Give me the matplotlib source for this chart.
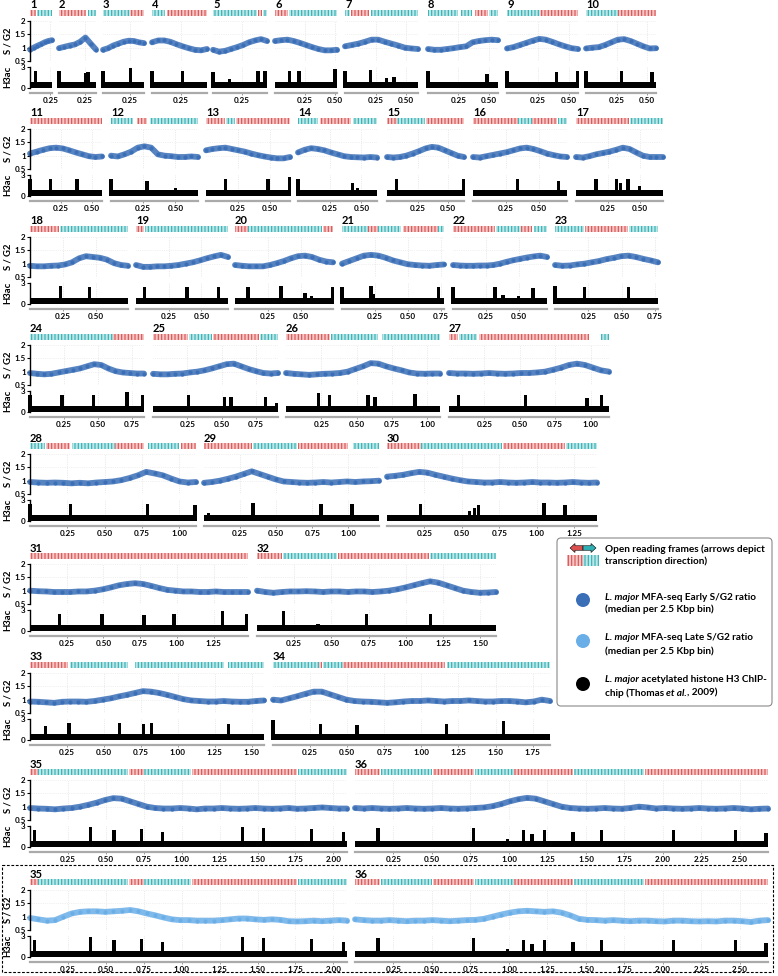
import matplotlib
matplotlib.use('Agg')
import matplotlib.pyplot as plt
from matplotlib.patches import Rectangle, FancyArrow, Circle, FancyBboxPatch
import numpy as np

plt.rcParams['font.family'] = ['Lato', 'DejaVu Sans']
plt.rcParams['hatch.linewidth'] = 0.8

# ---------------- DATA ----------------
chrom_len = [0.269, 0.356, 0.385, 0.473, 0.466, 0.517, 0.596, 0.575, 0.573, 0.571,
             0.583, 0.675, 0.655, 0.623, 0.630, 0.715, 0.685,
             0.740, 0.703, 0.743, 0.773, 0.717, 0.772,
             0.841, 0.912, 1.091, 1.130,
             1.111, 1.212, 1.403,
             1.484, 1.605,
             1.584, 1.867,
             2.090, 2.682]

# early S/G2 ratio, sampled evenly along each chromosome
sg2_01 = [0.93, 1.0, 1.07, 1.13, 1.2, 1.25, 1.28]
sg2_02 = [0.98, 1.03, 1.08, 1.12, 1.22, 1.38, 1.15, 0.93]
sg2_03 = [0.92, 0.98, 1.08, 1.15, 1.22, 1.26, 1.25, 1.2, 1.17]
sg2_04 = [1.2, 1.27, 1.27, 1.22, 1.13, 1.05, 0.98, 0.92, 0.9, 0.95]
sg2_05 = [0.92, 0.85, 0.88, 0.95, 1.02, 1.1, 1.2, 1.27, 1.32, 1.25]
sg2_06 = [1.25, 1.28, 1.3, 1.25, 1.18, 1.1, 1.02, 0.95, 0.9, 0.9, 0.92]
sg2_07 = [1.05, 1.1, 1.15, 1.22, 1.3, 1.3, 1.22, 1.15, 1.08, 1.0, 0.97, 0.95]
sg2_08 = [0.95, 0.92, 0.92, 0.95, 0.98, 1.02, 1.05, 1.2, 1.25, 1.28, 1.3, 1.28]
sg2_09 = [0.97, 1.02, 1.1, 1.18, 1.26, 1.33, 1.3, 1.22, 1.13, 1.05, 0.98, 0.95]
sg2_10 = [0.97, 1.0, 1.02, 1.1, 1.2, 1.3, 1.32, 1.25, 1.15, 1.05, 0.97, 0.98]
sg2_11 = [1.08, 1.15, 1.22, 1.28, 1.3, 1.27, 1.2, 1.12, 1.05, 0.98, 0.95, 0.97]
sg2_12 = [1.0, 0.97, 1.05, 1.15, 1.3, 1.35, 1.3, 1.05, 1.0, 0.98, 0.95, 0.95, 0.97, 0.95]
sg2_13 = [1.2, 1.25, 1.28, 1.3, 1.25, 1.2, 1.15, 1.08, 1.02, 0.97, 0.93, 0.9, 0.9, 0.95]
sg2_14 = [1.12, 1.22, 1.28, 1.25, 1.2, 1.12, 1.05, 0.98, 0.95, 0.94, 0.93, 0.95, 0.93]
sg2_15 = [0.95, 0.93, 0.95, 1.0, 1.08, 1.17, 1.27, 1.33, 1.3, 1.2, 1.1, 1.0, 0.95]
sg2_16 = [0.95, 0.93, 0.98, 1.03, 1.08, 1.13, 1.2, 1.27, 1.3, 1.25, 1.17, 1.08, 1.02, 0.97, 0.95]
sg2_17 = [0.95, 0.93, 0.98, 1.05, 1.1, 1.15, 1.22, 1.3, 1.25, 1.12, 1.0, 0.95, 0.95, 0.95]
sg2_18 = [0.92, 0.9, 0.9, 0.92, 0.93, 0.97, 1.05, 1.2, 1.28, 1.25, 1.22, 1.15, 1.02, 0.95, 0.92]
sg2_19 = [0.95, 0.88, 0.88, 0.9, 0.9, 0.92, 0.95, 1.0, 1.05, 1.12, 1.2, 1.27, 1.33, 1.25]
sg2_20 = [0.95, 0.92, 0.9, 0.9, 0.9, 0.95, 1.02, 1.1, 1.2, 1.28, 1.3, 1.25, 1.15, 1.08, 1.05]
sg2_21 = [1.0, 1.1, 1.2, 1.3, 1.33, 1.3, 1.22, 1.12, 1.05, 0.98, 0.95, 0.93, 0.92, 0.95, 0.97]
sg2_22 = [0.95, 0.93, 0.92, 0.92, 0.93, 0.93, 0.95, 1.0, 1.07, 1.13, 1.18, 1.23, 1.27, 1.3, 1.25]
sg2_23 = [0.95, 0.92, 0.93, 0.97, 1.0, 1.05, 1.1, 1.17, 1.22, 1.28, 1.3, 1.25, 1.18, 1.12, 1.05]
sg2_24 = [0.95, 0.92, 0.9, 0.92, 0.97, 1.02, 1.07, 1.12, 1.2, 1.28, 1.25, 1.12, 1.02, 0.97, 0.95, 0.93, 0.93]
sg2_25 = [0.92, 0.9, 0.9, 0.92, 0.93, 0.97, 1.0, 1.05, 1.12, 1.2, 1.28, 1.3, 1.2, 1.1, 1.02, 0.95, 0.93, 0.95]
sg2_26 = [0.95, 0.92, 0.9, 0.88, 0.9, 0.92, 0.93, 0.95, 1.0, 1.1, 1.2, 1.32, 1.3, 1.2, 1.12, 1.05, 0.97,
          0.93, 0.92, 0.93, 0.93]
sg2_27 = [0.95, 0.93, 0.93, 0.92, 0.93, 0.95, 0.93, 0.92, 0.93, 0.95, 0.95, 0.97, 1.0, 1.07, 1.15, 1.25,
          1.3, 1.25, 1.15, 1.05, 1.0]
sg2_28 = [0.95, 0.93, 0.92, 0.93, 0.92, 0.9, 0.92, 0.9, 0.93, 0.95, 0.97, 1.02, 1.1, 1.2, 1.33, 1.27,
          1.2, 1.08, 0.97, 0.93, 0.95]
sg2_29 = [0.92, 0.95, 1.0, 1.07, 1.15, 1.25, 1.35, 1.25, 1.15, 1.05, 0.97, 0.95, 0.93, 0.92, 0.93, 0.95,
          0.93, 0.95, 0.97, 0.95, 0.97, 0.98, 1.0]
sg2_30 = [1.15, 1.18, 1.22, 1.28, 1.33, 1.3, 1.22, 1.15, 1.08, 1.02, 0.97, 0.95, 0.93, 0.93, 0.95, 0.93,
          0.92, 0.93, 0.95, 0.93, 0.93, 0.92, 0.93, 0.95, 0.93, 0.92, 0.93]
sg2_31 = [1.0, 0.98, 0.97, 0.95, 0.95, 0.95, 0.97, 0.97, 1.0, 1.05, 1.12, 1.2, 1.25, 1.28, 1.25, 1.18,
          1.1, 1.03, 1.0, 0.97, 0.97, 0.95, 0.95, 0.97, 0.95, 0.95, 0.95, 0.95]
sg2_32 = [1.0, 0.95, 0.92, 0.95, 0.97, 0.97, 0.98, 0.97, 0.95, 0.97, 0.97, 0.95, 0.97, 0.97, 0.95, 0.97,
          1.0, 1.05, 1.12, 1.2, 1.28, 1.35, 1.3, 1.2, 1.1, 1.0, 0.95, 0.92, 0.93, 0.95]
sg2_33 = [0.93, 0.92, 0.9, 0.88, 0.92, 0.93, 0.93, 0.92, 0.95, 1.0, 1.05, 1.12, 1.18, 1.25, 1.32, 1.3,
          1.25, 1.18, 1.1, 1.02, 0.97, 0.95, 0.93, 0.93, 0.95, 0.93, 0.92, 0.92, 0.95, 0.97]
sg2_34 = [1.0, 0.97, 1.05, 1.13, 1.22, 1.3, 1.3, 1.2, 1.1, 1.0, 0.95, 0.93, 0.92, 0.9, 0.88, 0.9, 0.93,
          0.95, 0.95, 0.97, 0.95, 0.93, 0.95, 0.95, 0.97, 0.95, 0.93, 0.93, 0.95, 0.95, 0.93, 0.9, 0.93,
          1.0, 0.95]
sg2_35 = [0.95, 0.93, 0.92, 0.9, 0.93, 0.95, 1.0, 1.07, 1.15, 1.25, 1.32, 1.3, 1.2, 1.1, 1.0, 0.95, 0.93,
          0.93, 0.95, 0.93, 0.9, 0.93, 0.93, 0.95, 0.93, 0.92, 0.93, 0.95, 0.93, 0.92, 0.93, 0.95, 0.92,
          0.93, 0.95, 0.97, 0.95, 0.93, 0.93]
sg2_36 = [0.95, 0.93, 0.95, 0.93, 0.92, 0.93, 0.95, 0.93, 0.92, 0.93, 0.95, 0.93, 0.92, 0.93, 0.95,
          0.97, 1.02, 1.1, 1.2, 1.28, 1.33, 1.3, 1.2, 1.1, 1.0, 0.95,
          0.93, 0.92, 0.93, 0.95, 0.93, 0.92, 0.95, 1.0, 0.97, 0.93, 0.95, 0.93, 0.92, 0.93, 0.95, 0.93,
          0.92, 0.93, 0.95, 0.93, 0.9, 0.92, 0.93]

# late S/G2 ratio (chromosomes 35 and 36)
late_35 = [0.95, 0.9, 0.85, 0.87, 1.0, 1.12, 1.18, 1.2, 1.2, 1.18, 1.2, 1.22, 1.25, 1.2, 1.12, 1.05, 0.97,
           0.9, 0.87, 0.87, 0.85, 0.85, 0.85, 0.87, 0.9, 0.93, 0.93, 0.9, 0.88, 0.9, 0.88, 0.83, 0.82,
           0.83, 0.85, 0.83, 0.85, 0.87, 0.85]
late_36 = [0.9, 0.87, 0.85, 0.85, 0.87, 0.85, 0.83, 0.85, 0.85, 0.87, 0.85, 0.83, 0.85, 0.87, 0.88, 0.92,
           1.0, 1.08, 1.15, 1.2, 1.22, 1.2, 1.18, 1.2, 1.15, 1.05, 0.92, 0.88, 0.87, 0.85, 0.87, 0.85,
           0.83, 0.85, 0.85, 0.83, 0.82, 0.85, 0.85, 0.83, 0.82, 0.83, 0.82, 0.85, 0.85, 0.83, 0.8, 0.85,
           0.87]

# H3ac: background level and peaks (position Mbp, height)
h3ac_base = 0.85
pk_01 = [(0.07, 2.5)]
pk_02 = [(0.0, 2.4), (0.255, 2.1), (0.28, 2.3)]
pk_03 = [(0.0, 2.5), (0.257, 2.8)]
pk_04 = [(0.0, 2.4), (0.26, 2.5)]
pk_05 = [(0.0, 2.3), (0.14, 1.3), (0.39, 2.4), (0.45, 2.5)]
pk_06 = [(0.12, 2.4), (0.2, 2.5), (0.5, 2.7)]
pk_07 = [(0.0, 2.5), (0.21, 2.6), (0.34, 1.5), (0.4, 1.6)]
pk_08 = [(0.0, 2.4), (0.34, 0.9), (0.485, 2.0)]
pk_09 = [(0.0, 2.5), (0.40, 2.3), (0.57, 2.5)]
pk_10 = [(0.0, 2.4), (0.29, 2.4), (0.54, 2.3)]
pk_11 = [(0.0, 2.5), (0.167, 2.5), (0.38, 2.5)]
pk_12 = [(0.0, 2.5), (0.28, 2.2), (0.5, 1.1)]
pk_13 = [(0.15, 2.4), (0.485, 2.5), (0.65, 2.7)]
pk_14 = [(0.0, 2.5), (0.43, 1.8), (0.47, 1.2)]
pk_15 = [(0.08, 2.5), (0.625, 2.5)]
pk_16 = [(0.34, 2.5), (0.65, 2.1)]
pk_17 = [(0.156, 2.4), (0.32, 2.5), (0.35, 1.8), (0.41, 2.4), (0.5, 1.5)]
pk_18 = [(0.23, 2.6), (0.45, 2.5)]
pk_19 = [(0.064, 2.5), (0.39, 2.5), (0.63, 2.5)]
pk_20 = [(0.10, 2.5), (0.35, 2.6), (0.53, 1.6), (0.58, 1.2), (0.74, 2.4)]
pk_21 = [(0.0, 2.5), (0.22, 2.6), (0.24, 1.5), (0.73, 2.4)]
pk_22 = [(0.0, 2.5), (0.32, 2.5), (0.38, 1.3), (0.5, 1.2), (0.61, 2.3)]
pk_23 = [(0.0, 2.6), (0.22, 2.5), (0.55, 2.5)]
pk_24 = [(0.0, 2.5), (0.235, 2.5), (0.47, 2.4), (0.716, 2.8), (0.83, 2.5)]
pk_25 = [(0.26, 2.5), (0.52, 2.2), (0.57, 2.2), (0.82, 2.2), (0.9, 1.3)]
pk_26 = [(0.23, 2.7), (0.31, 2.5), (0.58, 2.5), (0.63, 2.2), (0.915, 2.6)]
pk_27 = [(0.065, 2.5), (0.54, 2.5), (0.975, 2.0), (1.075, 2.5)]
pk_28 = [(0.0, 2.5), (0.27, 2.5), (0.785, 2.4), (1.105, 2.3)]
pk_29 = [(0.03, 1.2), (0.34, 2.6), (0.81, 2.5), (1.025, 2.5)]
pk_30 = [(0.225, 2.5), (0.55, 1.5), (0.585, 1.8), (0.61, 2.3), (1.05, 2.6), (1.19, 2.3)]
pk_31 = [(0.2, 2.5), (0.49, 2.5), (0.775, 2.3), (0.98, 2.5), (1.31, 2.8), (1.475, 2.5)]
pk_32 = [(0.176, 2.8), (0.41, 1.0), (0.734, 2.5), (1.165, 2.4)]
pk_33 = [(0.106, 2.0), (0.263, 2.5), (0.606, 2.5), (0.77, 2.3), (0.823, 2.4), (1.343, 2.3)]
pk_34 = [(0.0, 2.8), (0.32, 2.3), (0.566, 2.2), (1.168, 2.3), (1.554, 2.7)]
pk_35 = [(0.03, 2.5), (0.4, 2.8), (0.555, 2.4), (0.735, 2.6), (0.875, 2.2), (1.4, 2.8), (1.54, 2.7),
         (1.855, 2.6), (2.065, 2.2)]
pk_36 = [(0.15, 2.7), (0.77, 2.7), (0.99, 1.2), (1.095, 2.5), (1.15, 1.8), (1.23, 2.5), (1.415, 2.2),
         (1.6, 2.5), (2.07, 2.5), (2.47, 2.5), (2.67, 2.0)]

# ORF clusters (start, end, strand r=red / c=cyan)
orf_01 = [(0, 0.07, 'r'), (0.08, 0.269, 'c')]
orf_02 = [(0, 0.26, 'r'), (0.28, 0.356, 'c')]
orf_03 = [(0, 0.25, 'c'), (0.25, 0.385, 'r')]
orf_04 = [(0, 0.115, 'c'), (0.13, 0.473, 'r')]
orf_05 = [(0, 0.38, 'c'), (0.39, 0.425, 'r'), (0.43, 0.466, 'c')]
orf_06 = [(0, 0.11, 'r'), (0.12, 0.517, 'c')]
orf_07 = [(0, 0.04, 'c'), (0.05, 0.2, 'r'), (0.21, 0.596, 'c')]
orf_08 = [(0, 0.25, 'c'), (0.27, 0.36, 'c'), (0.39, 0.49, 'r'), (0.5, 0.575, 'c')]
orf_09 = [(0, 0.27, 'c'), (0.27, 0.573, 'r')]
orf_10 = [(0, 0.26, 'c'), (0.265, 0.571, 'r')]
orf_11 = [(0, 0.583, 'r')]
orf_12 = [(0, 0.17, 'c'), (0.2, 0.28, 'r'), (0.3, 0.675, 'c')]
orf_13 = [(0, 0.15, 'r'), (0.155, 0.23, 'c'), (0.235, 0.655, 'r')]
orf_14 = [(0, 0.16, 'c'), (0.17, 0.42, 'r'), (0.43, 0.623, 'c')]
orf_15 = [(0, 0.08, 'r'), (0.08, 0.31, 'c'), (0.32, 0.63, 'r')]
orf_16 = [(0, 0.34, 'r'), (0.345, 0.445, 'c'), (0.45, 0.64, 'r'), (0.645, 0.715, 'c')]
orf_17 = [(0, 0.42, 'r'), (0.425, 0.685, 'c')]
orf_18 = [(0, 0.22, 'r'), (0.23, 0.74, 'c')]
orf_19 = [(0, 0.06, 'r'), (0.065, 0.703, 'c')]
orf_20 = [(0, 0.095, 'r'), (0.1, 0.66, 'c'), (0.665, 0.743, 'r')]
orf_21 = [(0, 0.2, 'c'), (0.2, 0.27, 'r'), (0.27, 0.45, 'c'), (0.46, 0.73, 'r'), (0.73, 0.773, 'c')]
orf_22 = [(0, 0.32, 'r'), (0.325, 0.52, 'c'), (0.52, 0.6, 'r'), (0.615, 0.717, 'c')]
orf_23 = [(0, 0.22, 'c'), (0.225, 0.55, 'r'), (0.555, 0.772, 'c')]
orf_24 = [(0, 0.61, 'c'), (0.615, 0.841, 'r')]
orf_25 = [(0, 0.255, 'r'), (0.26, 0.43, 'c'), (0.435, 0.775, 'r'), (0.78, 0.912, 'c')]
orf_26 = [(0, 0.31, 'r'), (0.32, 0.65, 'c'), (0.68, 1.091, 'c')]
orf_27 = [(0, 0.065, 'r'), (0.07, 0.2, 'c'), (0.21, 0.99, 'r'), (1.07, 1.13, 'c')]
orf_28 = [(0, 0.1, 'c'), (0.11, 0.27, 'r'), (0.28, 0.57, 'c'), (0.57, 0.76, 'r'), (0.79, 1.0, 'c'),
          (1.01, 1.111, 'r')]
orf_29 = [(0, 0.33, 'r'), (0.34, 0.645, 'c'), (0.65, 1.0, 'r'), (1.03, 1.212, 'c')]
orf_30 = [(0, 0.225, 'r'), (0.23, 0.765, 'c'), (0.775, 1.19, 'r'), (1.195, 1.403, 'c')]
orf_31 = [(0, 1.484, 'r')]
orf_32 = [(0, 0.17, 'r'), (0.176, 0.54, 'c'), (0.545, 1.155, 'r'), (1.165, 1.605, 'c')]
orf_33 = [(0, 0.26, 'r'), (0.27, 0.665, 'c'), (0.71, 1.31, 'c'), (1.34, 1.584, 'c')]
orf_34 = [(0, 0.31, 'c'), (0.31, 0.33, 'r'), (0.34, 0.47, 'c'), (0.475, 1.157, 'r'), (1.17, 1.867, 'c')]
orf_35 = [(0, 0.05, 'r'), (0.05, 0.645, 'c'), (0.65, 0.75, 'r'), (0.75, 1.06, 'c'), (1.07, 1.76, 'r'),
          (1.765, 2.09, 'c')]
orf_36 = [(0, 0.16, 'r'), (0.17, 0.5, 'c'), (0.505, 0.77, 'r'), (0.78, 1.03, 'c'), (1.035, 1.415, 'r'),
          (1.42, 1.875, 'c'), (1.88, 2.682, 'r')]

legend_labels = [
    [("Open reading frames (arrows depict", 'normal')],
    [("transcription direction)", 'normal')],
    [("L. major", 'italic'), (" MFA-seq Early S/G2 ratio", 'normal')],
    [("(median per 2.5 Kbp bin)", 'normal')],
    [("L. major", 'italic'), (" MFA-seq Late S/G2 ratio", 'normal')],
    [("(median per 2.5 Kbp bin)", 'normal')],
    [("L. major", 'italic'), (" acetylated histone H3 ChIP-", 'normal')],
    [("chip (Thomas ", 'normal'), ("et al.", 'italic'), (", 2009)", 'normal')],
]

G = globals()
SG2 = {i: G['sg2_%02d' % i] for i in range(1, 37)}
PEAKS = {i: G['pk_%02d' % i] for i in range(1, 37)}
ORFS = {i: G['orf_%02d' % i] for i in range(1, 37)}
LATE = {35: late_35, 36: late_36}

# ---------------- STYLE / LAYOUT ----------------
W, H = 778, 976
C_EARLY = '#3a6fb7'
C_LATE = '#6aaee8'
C_RED, C_RED_L = '#dc5050', '#f4c6c6'
C_CYAN, C_CYAN_L = '#2fb0b3', '#bde6e7'

row_anchor = [21, 129, 237, 345, 454, 564, 673, 780, 890]
row_panels = [
    [(1, 30, 52), (2, 59, 96), (3, 103, 144), (4, 152, 207), (5, 213, 267), (6, 275, 337),
     (7, 345, 418), (8, 428, 498), (9, 507, 578), (10, 586, 656)],
    [(11, 30, 102), (12, 111, 198), (13, 206, 290), (14, 298, 377), (15, 387, 464),
     (16, 473, 567), (17, 576, 663)],
    [(18, 30, 128), (19, 136, 228), (20, 235, 333), (21, 342, 444), (22, 453, 547), (23, 555, 658)],
    [(24, 30, 144), (25, 153, 278), (26, 286, 440), (27, 449, 609)],
    [(28, 30, 196), (29, 204, 379), (30, 387, 597)],
    [(31, 30, 248), (32, 257, 496)],
    [(33, 30, 264), (34, 273, 550)],
    [(35, 30, 347), (36, 355, 768)],
    [(35, 30, 347), (36, 355, 768)],
]

fig = plt.figure(figsize=(W / 100, H / 100), dpi=100)
renderer = fig.canvas.get_renderer()


def px_axes(x0, y0, x1, y1):
    return fig.add_axes([x0 / W, 1 - y1 / H, (x1 - x0) / W, (y1 - y0) / H])


def clean(ax):
    for s in ax.spines.values():
        s.set_visible(False)
    ax.set_xticks([])
    ax.set_yticks([])
    ax.patch.set_alpha(0)


for r, panels in enumerate(row_panels):
    A = row_anchor[r]
    late = (r == 8)
    for k, (chrom, x0, x1) in enumerate(panels):
        L = chrom_len[chrom - 1]
        pxpm = (x1 - x0) / L
        ticks = np.arange(0.25, L + 1e-6, 0.25)

        # chromosome number
        fig.text(x0 / W, 1 - (A - 16) / H, str(chrom), fontsize=8, fontweight='bold',
                 ha='left', va='center')

        # ORF strip
        ao = px_axes(x0, A - 11, x1, A - 5)
        clean(ao)
        ao.set_xlim(0, L)
        ao.set_ylim(0, 1)
        for s, e, d in ORFS[chrom]:
            fc, hc = (C_RED_L, C_RED) if d == 'r' else (C_CYAN_L, C_CYAN)
            ao.add_patch(Rectangle((s, 0), e - s, 1, facecolor=fc, edgecolor=hc,
                                   hatch='|||||', linewidth=0))

        # S/G2
        asg = px_axes(x0, A, x1, A + 40)
        clean(asg)
        asg.set_xlim(0, L)
        asg.set_ylim(0.5, 2.0)
        for t in ticks:
            asg.axvline(t, color='#d9d9d9', lw=0.5, ls=':', zorder=0)
        for yv in (1.0, 1.5, 2.0):
            asg.axhline(yv, color='#e3e3e3', lw=0.5, ls=':', zorder=0)
        vals = LATE[chrom] if late else SG2[chrom]
        col = C_LATE if late else C_EARLY
        xs = np.linspace(0, L, len(vals))
        asg.plot(xs, vals, color=col, lw=4.2, alpha=0.85, solid_capstyle='round', clip_on=False)
        asg.plot(xs, vals, 'o', color=col, ms=3.0, mew=0, clip_on=False)

        # H3ac
        ah = px_axes(x0, A + 46, x1, A + 67)
        for s in ah.spines.values():
            s.set_visible(False)
        ah.patch.set_alpha(0)
        ah.set_xlim(0, L)
        ah.set_ylim(0, 3)
        for t in ticks:
            ah.axvline(t, color='#d9d9d9', lw=0.5, ls=':', zorder=0)
        ah.fill_between([0, L], 0, h3ac_base, color='black', lw=0)
        pp = [p for p, h in PEAKS[chrom]]
        hh = [h for p, h in PEAKS[chrom]]
        ah.bar(pp, hh, width=3.4 / pxpm, color='black', lw=0, clip_on=False)
        ah.spines['bottom'].set_visible(True)
        ah.spines['bottom'].set_color('#aaaaaa')
        ah.spines['bottom'].set_linewidth(1.6)
        ah.spines['bottom'].set_position(('outward', 3.5))
        ah.set_xticks(ticks)
        ah.set_xticklabels(['%.2f' % t for t in ticks], fontsize=5.8, fontweight='bold')
        ah.tick_params(axis='x', length=1.5, width=0.6, color='#888888', pad=1.5)
        ah.set_yticks([])

        if k == 0:
            for a_, yt, yl in ((asg, [0.5, 1, 1.5, 2], ['0.5', '1', '1.5', '2']),
                               (ah, [0, 3], ['0', '3'])):
                a_.spines['left'].set_visible(True)
                a_.spines['left'].set_color('black')
                a_.spines['left'].set_linewidth(1.0)
                a_.set_yticks(yt)
                a_.set_yticklabels(yl, fontsize=5.8, fontweight='bold')
                a_.tick_params(axis='y', length=2, width=0.8, pad=1)
            fig.text(8 / W, 1 - (A + 20) / H, 'S / G2', rotation=90, fontsize=6.8,
                     fontweight='bold', ha='center', va='center')
            fig.text(8 / W, 1 - (A + 56) / H, 'H3ac', rotation=90, fontsize=6.8,
                     fontweight='bold', ha='center', va='center')

# dashed box around late row
ov = px_axes(0, 0, W, H)
ov.set_xlim(0, W)
ov.set_ylim(H, 0)
ov.axis('off')
ov.add_patch(Rectangle((2, 865), 771, 107, fill=False, ls=(0, (2.5, 1.5)), lw=0.8, ec='black'))

# legend
lg = ov
lg.add_patch(FancyBboxPatch((557, 538), 215, 168, boxstyle='round,pad=0,rounding_size=4',
                            fc='white', ec='#8a8a8a', lw=0.8))
lg.add_patch(FancyArrow(583, 548, -13, 0, width=4.5, head_width=9, head_length=5,
                        length_includes_head=True, fc=C_RED, ec='black', lw=0.4))
lg.add_patch(FancyArrow(583, 548, 13, 0, width=4.5, head_width=9, head_length=5,
                        length_includes_head=True, fc=C_CYAN, ec='black', lw=0.4))
lg.add_patch(Rectangle((567, 555), 16, 11, fc=C_RED_L, ec=C_RED, hatch='|||||', lw=0))
lg.add_patch(Rectangle((583, 555), 16, 11, fc=C_CYAN_L, ec=C_CYAN, hatch='|||||', lw=0))
lg.add_patch(Circle((583, 600), 7, fc=C_EARLY, ec='none'))
lg.add_patch(Circle((583, 641), 7, fc=C_LATE, ec='none'))
lg.add_patch(Circle((583, 684), 7, fc='black', ec='none'))

line_y = [548, 561, 596, 609, 637, 650, 679, 692]


def rich(ax, x, y, parts, size=7.2):
    for txt, style in parts:
        t = ax.text(x, y + 3.5, txt, fontsize=size, fontweight='bold', fontstyle=style,
                    ha='left', va='baseline')
        bb = t.get_window_extent(renderer=renderer)
        x += bb.width


for parts, yy in zip(legend_labels, line_y):
    rich(lg, 605, yy, parts)

fig.savefig('out.png', dpi=100)
